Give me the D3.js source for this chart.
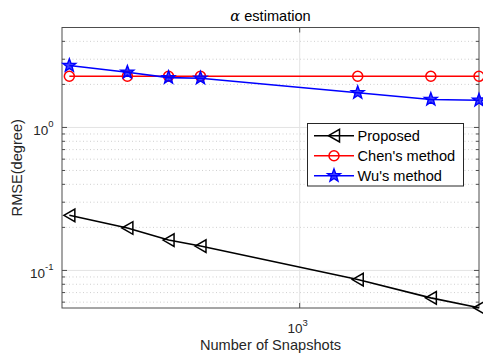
<!DOCTYPE html>
<html>
<head>
<meta charset="utf-8">
<script src="https://cdn.jsdelivr.net/npm/d3@7"></script>
<style>
  html, body { margin: 0; padding: 0; background: #fff; }
  svg { display: block; font-family: "Liberation Sans", Arial, Helvetica, sans-serif; }
</style>
</head>
<body>
<svg id="chart" width="483" height="363"></svg>
<script>
// Number of snapshots used in each trial
const snapshots = [200, 300, 400, 500, 1500, 2500, 3500];
// RMSE (degree) of the alpha estimate per method
const proposed = [0.243, 0.198, 0.163, 0.148, 0.0863, 0.0643, 0.0548];
const chen     = [2.28, 2.28, 2.28, 2.28, 2.28, 2.28, 2.28];
const wu       = [2.71, 2.43, 2.23, 2.21, 1.75, 1.57, 1.55];
const seriesNames = ["Proposed", "Chen's method", "Wu's method"];
const xMajorTicks = [1000];
const yMajorTicks = [0.1, 1];
const yMinorTicks = [0.06, 0.07, 0.08, 0.09, 0.2, 0.3, 0.4, 0.5, 0.6, 0.7, 0.8, 0.9, 2, 3, 4];

const svg = d3.select("#chart");
const M = { left: 62, right: 479, top: 27.5, bottom: 308 };
const textColor = "#262626";
const axisColor = "#4d4d4d";

const x = d3.scaleLog().domain([190, 3500]).range([M.left, M.right]);
const y = d3.scaleLog().domain([0.0546, 5]).range([M.bottom, M.top]);

// grid lines
const grid = svg.append("g");
grid.selectAll(".ymin").data(yMinorTicks).join("line")
  .attr("x1", M.left).attr("x2", M.right)
  .attr("y1", d => y(d)).attr("y2", d => y(d))
  .attr("stroke", "#c4c4c4").attr("stroke-width", 0.8).attr("stroke-dasharray", "1,2.5");
grid.selectAll(".ymaj").data(yMajorTicks).join("line")
  .attr("x1", M.left).attr("x2", M.right)
  .attr("y1", d => y(d)).attr("y2", d => y(d))
  .attr("stroke", "#e3e3e3").attr("stroke-width", 1);
grid.selectAll(".xmaj").data(xMajorTicks).join("line")
  .attr("y1", M.top).attr("y2", M.bottom)
  .attr("x1", d => x(d)).attr("x2", d => x(d))
  .attr("stroke", "#e3e3e3").attr("stroke-width", 1);

// ticks (inside, both sides)
const ticks = svg.append("g").attr("stroke", axisColor).attr("stroke-width", 1);
yMajorTicks.forEach(v => {
  ticks.append("line").attr("x1", M.left).attr("x2", M.left + 5).attr("y1", y(v)).attr("y2", y(v));
  ticks.append("line").attr("x1", M.right).attr("x2", M.right - 5).attr("y1", y(v)).attr("y2", y(v));
});
yMinorTicks.forEach(v => {
  ticks.append("line").attr("x1", M.left).attr("x2", M.left + 3).attr("y1", y(v)).attr("y2", y(v));
  ticks.append("line").attr("x1", M.right).attr("x2", M.right - 3).attr("y1", y(v)).attr("y2", y(v));
});
xMajorTicks.forEach(v => {
  ticks.append("line").attr("y1", M.bottom).attr("y2", M.bottom - 5).attr("x1", x(v)).attr("x2", x(v));
  ticks.append("line").attr("y1", M.top).attr("y2", M.top + 5).attr("x1", x(v)).attr("x2", x(v));
});

// frame
svg.append("rect")
  .attr("x", M.left).attr("y", M.top)
  .attr("width", M.right - M.left).attr("height", M.bottom - M.top)
  .attr("fill", "none").attr("stroke", axisColor).attr("stroke-width", 1);

// tick labels as 10^k
function powerLabel(g, v) {
  const e = Math.round(Math.log10(v));
  g.append("tspan").text("10");
  g.append("tspan").attr("font-size", 9.5).attr("dy", -7.5).text(e);
}
yMajorTicks.forEach(v => {
  const t = svg.append("text").attr("x", 53.5).attr("y", y(v) + 7.5)
    .attr("text-anchor", "end").attr("font-size", 13.5).attr("fill", textColor);
  powerLabel(t, v);
});
xMajorTicks.forEach(v => {
  const t = svg.append("text").attr("x", x(v) - 2).attr("y", 333.3)
    .attr("text-anchor", "middle").attr("font-size", 13.5).attr("fill", textColor);
  powerLabel(t, v);
});

// axis labels and title
svg.append("text").attr("x", (M.left + M.right) / 2).attr("y", 350)
  .attr("text-anchor", "middle").attr("font-size", 14.6).attr("fill", textColor)
  .text("Number of Snapshots");
svg.append("text").attr("transform", `translate(21.5,${(M.top + M.bottom) / 2}) rotate(-90)`)
  .attr("text-anchor", "middle").attr("font-size", 14.6).attr("fill", textColor)
  .text("RMSE(degree)");
const title = svg.append("text").attr("x", (M.left + M.right) / 2).attr("y", 21)
  .attr("text-anchor", "middle").attr("font-size", 14.6).attr("fill", "#000");
title.append("tspan").attr("font-family", "'DejaVu Serif', 'Liberation Serif', serif").attr("font-style", "italic").text("α");
title.append("tspan").text(" estimation");

// marker shapes
function triLeft(g, cx, cy, color) {
  g.append("path").attr("d", `M${cx - 5.5},${cy} L${cx + 5.5},${cy - 6.3} L${cx + 5.5},${cy + 6.3} Z`)
    .attr("fill", "none").attr("stroke", color).attr("stroke-width", 1.5);
}
function circ(g, cx, cy, color) {
  g.append("circle").attr("cx", cx).attr("cy", cy).attr("r", 5)
    .attr("fill", "none").attr("stroke", color).attr("stroke-width", 1.5);
}
function star(g, cx, cy, color) {
  const pts = [];
  for (let i = 0; i < 10; i++) {
    const r = i % 2 === 0 ? 6.8 : 2.8;
    const a = -Math.PI / 2 + i * Math.PI / 5;
    pts.push([cx + r * Math.cos(a), cy + r * Math.sin(a)]);
  }
  g.append("path").attr("d", "M" + pts.map(p => p.join(",")).join("L") + "Z")
    .attr("fill", color).attr("fill-opacity", 0.75)
    .attr("stroke", color).attr("stroke-width", 1.4);
}

const series = [
  { name: seriesNames[0], values: proposed, color: "#000000", marker: triLeft },
  { name: seriesNames[1], values: chen, color: "#ff0000", marker: circ },
  { name: seriesNames[2], values: wu, color: "#0000ff", marker: star }
];

const line = d3.line().x(d => x(d[0])).y(d => y(d[1]));
const plot = svg.append("g");
series.forEach(s => {
  const pts = snapshots.map((n, i) => [n, s.values[i]]);
  plot.append("path").attr("d", line(pts)).attr("fill", "none")
    .attr("stroke", s.color).attr("stroke-width", 1.6);
  pts.forEach(p => s.marker(plot, x(p[0]), y(p[1]), s.color));
});

// legend
const lg = svg.append("g");
lg.append("rect").attr("x", 307.5).attr("y", 123.5).attr("width", 156).attr("height", 62.5)
  .attr("fill", "#fff").attr("stroke", "#262626").attr("stroke-width", 1);
series.forEach((s, i) => {
  const ry = 135.7 + i * 20;
  lg.append("line").attr("x1", 314).attr("x2", 354).attr("y1", ry).attr("y2", ry)
    .attr("stroke", s.color).attr("stroke-width", 1.6);
  s.marker(lg, 334, ry, s.color);
  lg.append("text").attr("x", 357.5).attr("y", ry + 5.5).attr("font-size", 14.6)
    .attr("fill", "#000").text(s.name);
});
</script>
</body>
</html>
